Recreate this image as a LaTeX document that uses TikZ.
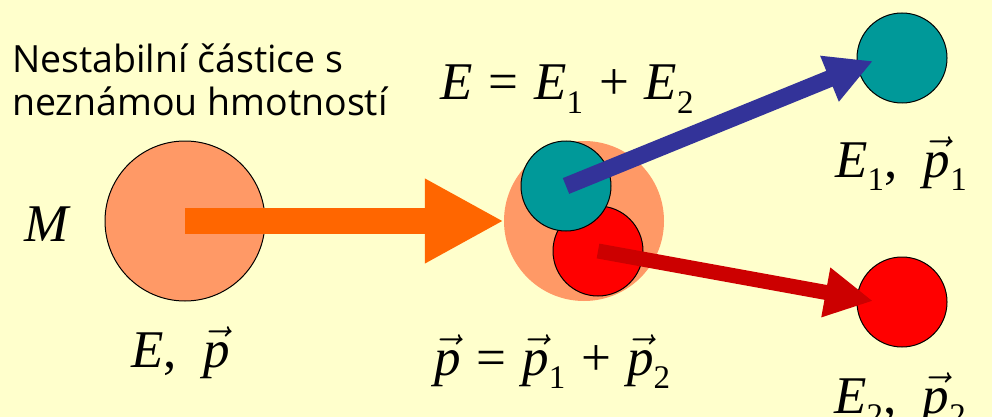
\documentclass[tikz,border=0pt]{standalone}
\usepackage{fix-cm}
\usepackage{amsmath}
\usepackage[no-math]{fontspec}
\setmainfont{Liberation Serif}
\setsansfont{Open Sans}
\usepackage{xcolor}
\usetikzlibrary{arrows.meta}

\definecolor{paper}{RGB}{255,255,204}
\definecolor{salmon}{RGB}{255,153,102}
\definecolor{tealball}{RGB}{0,153,153}
\definecolor{redball}{RGB}{255,0,0}
\definecolor{orangearr}{RGB}{255,102,0}
\definecolor{bluearr}{RGB}{51,51,153}
\definecolor{redarr}{RGB}{204,0,0}
\newcommand{\eqsize}{\rmfamily\fontsize{53}{60}\selectfont}
\newcommand{\symE}{\textit{E}}
\newcommand{\symp}{$\vec{\text{\textit{p}}}$}
\newcommand{\idx}[1]{\raisebox{-0.25em}{\fontsize{33}{33}\selectfont #1}}
\newcommand{\opgap}{\hspace{0.3em}}

\begin{document}
\begin{tikzpicture}[
  x=1pt, y=-1pt,
  ball/.style={circle, draw=black, line width=1pt, inner sep=0pt, minimum size=90pt},
  eqlabel/.style={anchor=base west, inner sep=0pt, font=\eqsize},
  note/.style={anchor=base west, inner sep=0pt, font=\sffamily\fontsize{37.5}{45}\selectfont},
  push/.style={line width=#1}
]

\fill[paper] (0,0) rectangle (992,417);
\useasboundingbox (0,0) rectangle (992,417);

% unstable particle
\node[ball, fill=salmon, minimum size=160pt] (mother) at (185,221) {};
\node[eqlabel] (mlab) at (24,241) {\textit{M}};
\node[eqlabel] (eplab) at (131,367) {\symE,\hspace{0.5em}\symp};
\node[note] (line1) at (12,73) {Nestabilní částice s};
\node[note] (line2) at (12,115) {neznámou hmotností};

% decay point
\node[circle, fill=salmon, inner sep=0pt, minimum size=160pt] (blob) at (584,221) {};
\node[ball, fill=redball] (red) at (598,251) {};
\node[ball, fill=tealball] (teal) at (566,186) {};
\node[eqlabel] (esum) at (440,100) {\symE\opgap=\opgap\symE\idx{1}\opgap+\opgap\symE\idx{2}};
\node[eqlabel] (psum) at (434,375) {\symp\opgap=\opgap\symp\idx{1}\opgap+\opgap\symp\idx{2}};

% products
\node[ball, fill=tealball] (teal1) at (902,58) {};
\node[ball, fill=redball] (red2) at (902,302) {};
\node[eqlabel] (ep1) at (835,177) {\symE\idx{1},\hspace{0.5em}\symp\idx{1}};
\node[eqlabel] (ep2) at (834,413) {\symE\idx{2},\hspace{0.5em}\symp\idx{2}};

\coordinate (tip1) at (873,61);
\coordinate (tip2) at (873,301);

\draw[push=26pt, orangearr, -{Triangle[length=79pt,width=79pt]}] (mother.center) -- (blob.west);
\draw[push=17pt, bluearr, -{Triangle[length=47pt,width=46pt]}] (teal.center) -- (tip1);
\draw[push=15pt, redarr, -{Triangle[length=48pt,width=47pt]}] (red.center) -- (tip2);

\end{tikzpicture}
\end{document}
